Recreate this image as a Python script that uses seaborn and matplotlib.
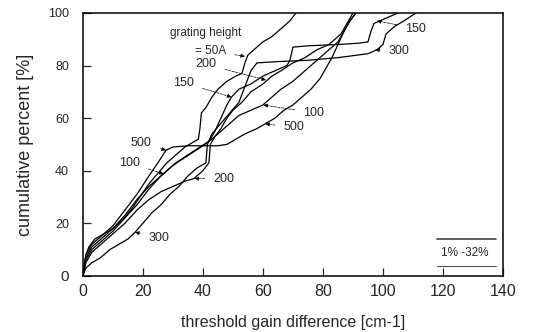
import numpy as np
import pandas as pd
import matplotlib
matplotlib.use("Agg")
import matplotlib.pyplot as plt
import seaborn as sns

# grating height curves (x: threshold gain difference, y: cumulative percent)
x_50 = [0, 0.5, 1, 2, 4, 7, 10, 13, 16, 19, 22, 25, 28, 31, 34, 37, 38.5, 39, 39.5, 41, 43, 45, 48, 51, 53, 54, 55, 57, 60, 63, 66, 69, 71]
y_50 = [0, 4, 8, 11, 14, 16, 18, 21, 25, 30, 35, 39, 43, 46, 49, 51, 52, 56, 62, 64, 68, 71, 74, 76, 77, 81, 84, 86, 89, 91, 94, 97, 100]

x_100 = [0, 1, 3, 6, 10, 14, 18, 22, 27, 31, 35, 39, 43, 46, 49, 52, 56, 60, 63, 66, 70, 73, 76, 79, 82, 85, 87, 89, 91]
y_100 = [0, 7, 11, 14, 18, 23, 29, 34, 39, 43, 46, 49, 52, 55, 58, 61, 63, 65, 68, 71, 74, 77, 80, 83, 86, 89, 93, 97, 100]

x_150 = [0, 1, 3, 6, 10, 14, 18, 22, 26, 30, 34, 38, 42, 44, 46, 48, 49.5, 52, 56, 60, 64, 68, 69, 70, 75, 85, 92, 95, 96, 97, 100, 105]
y_150 = [0, 6, 10, 13, 17, 22, 27, 33, 38, 42, 45, 48, 51, 55, 60, 65, 68, 71, 73, 76, 78, 80, 82, 87, 87.5, 88, 88.5, 89, 93, 96, 97.5, 100]

x_200 = [0, 1, 3, 6, 10, 14, 18, 22, 26, 30, 34, 37, 40, 42, 42.5, 44, 46, 48, 50, 53, 56, 60, 63, 66, 70, 74, 78, 82, 86, 88, 90]
y_200 = [0, 5, 9, 12, 16, 20, 25, 29, 32, 34, 36, 37, 40, 43, 50, 53, 56, 60, 63, 66, 70, 73, 76, 78, 81, 83, 86, 88, 92, 96, 100]

x_300 = [0, 1, 3, 6, 9, 12, 15, 17.4, 20, 23, 26, 29, 32, 35, 38, 41, 41.5, 43, 46, 49, 52, 54, 56, 58, 65, 75, 85, 95, 98, 100, 101, 104, 107, 111]
y_300 = [0, 3, 5, 7, 10, 12, 14, 16.6, 20, 24, 27, 31, 34, 38, 41, 43, 50, 54, 58, 62, 66, 72, 78, 81, 81.5, 82, 83, 84.5, 86, 88, 92, 95, 97, 100]

x_500 = [0, 1, 3, 6, 10, 14, 18, 22, 25, 27.7, 30, 35, 40, 45, 48, 51, 54, 58, 61, 64, 67, 70, 73, 76, 79, 81, 83, 85, 87, 89, 91]
y_500 = [0, 8, 12, 15, 19, 25, 31, 38, 43, 47.8, 49, 49.5, 49.5, 49.5, 50, 52, 54, 56, 58, 60, 63, 65, 68, 71, 75, 79, 83, 88, 93, 97, 100]

heights = ["50", "100", "150", "200", "300", "500"]
xs = [x_50, x_100, x_150, x_200, x_300, x_500]
ys = [y_50, y_100, y_150, y_200, y_300, y_500]

# curve labels: text, text position, arrow target
label_texts = ["= 50A", "200", "150", "100", "500", "500", "100", "200", "300", "150", "300"]
label_pos = [(42.5, 85.6), (41, 80.4), (33.5, 73.5), (77, 62), (70.5, 56.5), (19.5, 50.5), (15.5, 43), (47, 37), (25.5, 14.5), (111, 94), (105.5, 85.5)]
label_tip = [(54, 83.5), (61, 74.5), (49.5, 68), (60.2, 65), (60.8, 57.8), (27.7, 47.8), (26.9, 38.8), (37.2, 37), (17.4, 16.6), (98, 97), (97.4, 86)]

rows = []
for h, xx, yy in zip(heights, xs, ys):
    for i, (a, b) in enumerate(zip(xx, yy)):
        rows.append({"height": h, "order": i, "x": a, "y": b})
df = pd.DataFrame(rows)

sns.set_style("ticks")
plt.rcParams["font.family"] = ["Liberation Sans", "DejaVu Sans"]

fig = plt.figure(figsize=(5.45, 3.32), dpi=100)
ax = fig.add_axes([0.152, 0.169, 0.771, 0.792])

sns.lineplot(data=df, x="x", y="y", hue="height", units="height", estimator=None,
             sort=False, palette=["black"] * len(heights), linewidth=0.9,
             legend=False, ax=ax)

ax.text(41, 92.5, "grating height", fontsize=8.5, ha="center", va="center")
for t, p, tip in zip(label_texts, label_pos, label_tip):
    ax.annotate(t, xy=tip, xytext=p, fontsize=9 if t != "= 50A" else 8.5,
                ha="center", va="center",
                arrowprops=dict(arrowstyle="-|>", color="black", lw=0.5,
                                mutation_scale=6, shrinkA=4, shrinkB=0, ls="--"))

# small key box
ax.text(127.3, 8.6, "1% -32%", fontsize=8.5, ha="center", va="center")
ax.plot([118, 137.5], [14, 14], color="#555555", lw=1.3)
ax.plot([118, 137.5], [3.8, 3.8], color="#555555", lw=0.8)

ax.set_xlim(0, 140)
ax.set_ylim(0, 100)
ax.set_xticks([0, 20, 40, 60, 80, 100, 120, 140])
ax.set_yticks([0, 20, 40, 60, 80, 100])
ax.tick_params(axis="x", direction="in", length=6, width=0.9, labelsize=11.5, pad=6)
ax.tick_params(axis="y", direction="in", length=6, width=0.9, labelsize=9, pad=10)
ax.get_yticklabels()[0].set_fontsize(11)
for s in ax.spines.values():
    s.set_linewidth(1.1)
    s.set_color("black")
ax.set_xlabel("threshold gain difference [cm-1]", fontsize=11.5, labelpad=11)
ax.set_ylabel("cumulative percent [%]", fontsize=13, labelpad=10)

fig.savefig("out.png", dpi=100)
